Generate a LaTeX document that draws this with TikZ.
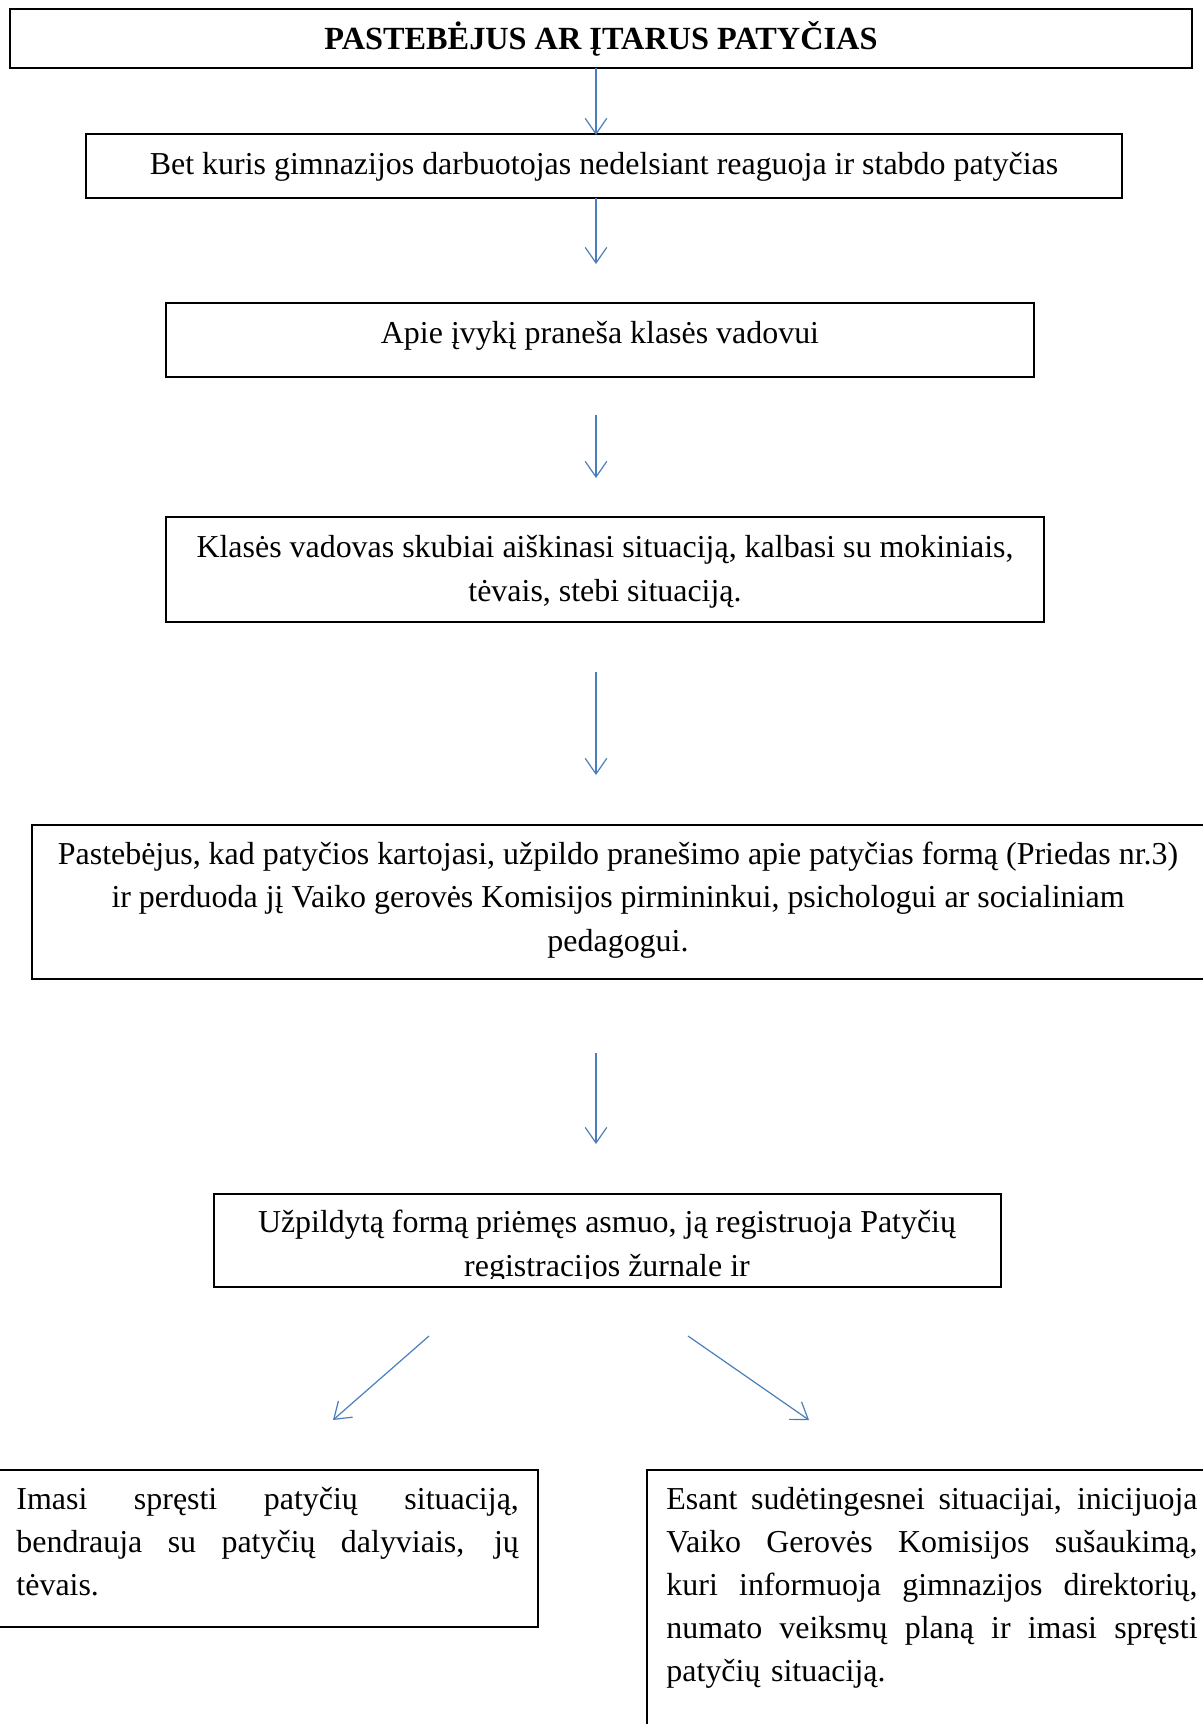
\documentclass[tikz,border=0pt]{standalone}
\usepackage{fontspec}
\setmainfont{Liberation Serif}
\usetikzlibrary{arrows.meta}
\definecolor{arrblue}{HTML}{4A7EBB}
\newcommand{\jline}[2]{\makebox[#1][s]{\spaceskip=0.25em plus 1fil\relax#2}}

\begin{document}
\begin{tikzpicture}[x=0.418pt,y=-0.418pt,>={Straight Barb[length=6.5pt,width=9pt]},
    box/.style={draw,line width=0.6pt},
    txt/.style={inner sep=0pt,anchor=base,align=center,font=\fontsize{13.35}{18}\selectfont},
    arr/.style={->,draw=arrblue,line width=0.5pt}]
                \useasboundingbox (0,0) rectangle (1203,1724);
                % boxes
                \draw[box](10,9) rectangle (1192,68);
                \draw[box](86,134) rectangle (1122,198);
                \draw[box](166,303) rectangle (1034,377);
                \draw[box](166,517) rectangle (1044,622);
                \draw[box](1212,825) -- (32,825) -- (32,979) -- (1212,979);
                \draw[box](214,1194) rectangle (1001,1287);
                \draw[box](-8,1470) -- (538,1470) -- (538,1627) -- (-8,1627);
                \draw[box](1212,1470) -- (647,1470) -- (647,1735);
                % texts (multi-line: base = last line)
                \node[txt,font=\fontsize{13.5}{18}\selectfont\bfseries] (start) at (601,49) {PASTEBĖJUS AR ĮTARUS PATYČIAS};
                \node[txt] (react) at (604,174) {Bet kuris gimnazijos darbuotojas nedelsiant reaguoja ir stabdo patyčias};
                \node[txt] (inform) at (600,343) {Apie įvykį praneša klasės vadovui};
                \node[txt] (clarify) at (605,601) {Klasės vadovas skubiai aiškinasi situaciją, kalbasi su mokiniais,\\ tėvais, stebi situaciją.};
                \node[txt] (report) at (618,951) {Pastebėjus, kad patyčios kartojasi, užpildo pranešimo apie patyčias formą (Priedas nr.3)\\ ir perduoda jį Vaiko gerovės Komisijos pirmininkui, psichologui ar socialiniam\\ pedagogui.};
                \begin{scope}
                \clip (214,1194) rectangle (1001,1278);
                \node[txt] (register) at (607,1276) {Užpildytą formą priėmęs asmuo, ją registruoja Patyčių\\ registracijos žurnale ir};
                \end{scope}
                \node[txt,anchor=base west,align=left,text width=210pt] (solve) at (16,1509) {\jline{210pt}{Imasi spręsti patyčių situaciją,}\\ \jline{210pt}{bendrauja su patyčių dalyviais, jų}\\ tėvais.};
                \node[txt,anchor=base west,align=left,text width=222pt] (commission) at (666,1509) {\jline{222pt}{Esant sudėtingesnei situacijai, inicijuoja}\\ \jline{222pt}{Vaiko Gerovės Komisijos sušaukimą,}\\ \jline{222pt}{kuri informuoja gimnazijos direktorių,}\\ \jline{222pt}{numato veiksmų planą ir imasi spręsti}\\ patyčių situaciją.};
                % arrows
                \foreach \n/\ya/\yb in {1/68/135,2/198/264,3/415/478,4/672/775,5/1053/1144}{
                    \coordinate (s\n) at (596,\ya);
                    \coordinate (e\n) at (596,\yb);
                    \draw[arr](s\n)--(e\n);
                }
                \coordinate (sl) at (429,1336); \coordinate (el) at (333,1420);
                \coordinate (sr) at (688,1336); \coordinate (er) at (809,1420);
                \draw[arr](sl)--(el);
                \draw[arr](sr)--(er);
            \end{tikzpicture}
\end{document}
